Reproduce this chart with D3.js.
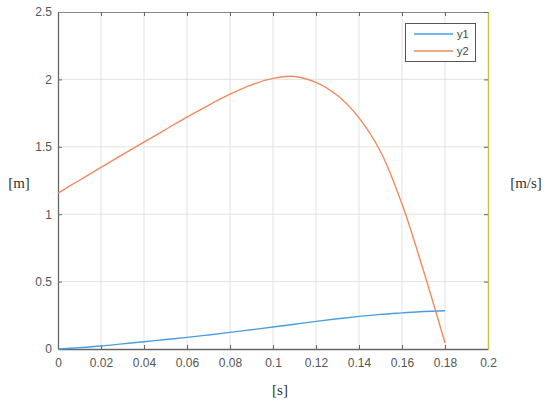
<!DOCTYPE html>
<html><head><meta charset="utf-8">
<script src="https://cdn.jsdelivr.net/npm/d3@7"></script>
<style>body{margin:0;background:#fff;}svg{display:block;}</style>
</head><body>
<svg id="chart" width="550" height="406"></svg>
<script>
const tValues = [0,0.01,0.02,0.03,0.04,0.05,0.06,0.07,0.08,0.09,0.1,0.11,0.12,0.13,0.14,0.15,0.16,0.17,0.18];
const y1Values = [0,0.01,0.022,0.038,0.054,0.07,0.086,0.104,0.123,0.143,0.163,0.184,0.205,0.224,0.242,0.257,0.268,0.278,0.284];
const y2Values = [1.157,1.252,1.347,1.442,1.535,1.628,1.72,1.808,1.89,1.96,2.008,2.022,1.978,1.88,1.715,1.465,1.075,0.58,0.045];
const xTicks = [0,0.02,0.04,0.06,0.08,0.1,0.12,0.14,0.16,0.18,0.2];
const yTicks = [0,0.5,1,1.5,2,2.5];
const seriesNames = ["y1","y2"];
const seriesColors = ["#4a9ee0","#f08a5d"];

(function(){
const svg = d3.select("#chart");
const L=58,R=488,T=12,B=349;
const x = d3.scaleLinear().domain([0,0.2]).range([L,R]);
const y = d3.scaleLinear().domain([0,2.5]).range([B,T]);

// grid
const g = svg.append("g");
g.selectAll(".gx").data(xTicks.slice(1,-1)).enter().append("line")
  .attr("x1",d=>x(d)).attr("x2",d=>x(d)).attr("y1",T).attr("y2",B)
  .attr("stroke","#e3e3e3").attr("stroke-width",1);
g.selectAll(".gy").data(yTicks.slice(1,-1)).enter().append("line")
  .attr("x1",L).attr("x2",R).attr("y1",d=>y(d)).attr("y2",d=>y(d))
  .attr("stroke","#e3e3e3").attr("stroke-width",1);

// axes
const axisColor="#666";
const axB = svg.append("g").attr("transform",`translate(0,${B})`)
  .call(d3.axisBottom(x).tickValues(xTicks).tickFormat(d=>String(d)).tickSizeInner(-4).tickSizeOuter(0).tickPadding(9));
const axL = svg.append("g").attr("transform",`translate(${L},0)`)
  .call(d3.axisLeft(y).tickValues(yTicks).tickFormat(d=>String(d)).tickSizeInner(-4).tickSizeOuter(0).tickPadding(6));
const axT = svg.append("g").attr("transform",`translate(0,${T})`)
  .call(d3.axisTop(x).tickValues(xTicks).tickFormat("").tickSizeInner(-4).tickSizeOuter(0));
const axR = svg.append("g").attr("transform",`translate(${R},0)`)
  .call(d3.axisRight(y).tickValues(yTicks).tickFormat("").tickSizeInner(-4).tickSizeOuter(0));
[axB,axL,axT,axR].forEach(a=>{
  a.selectAll("path").attr("stroke",axisColor).attr("stroke-width",1.3);
  a.selectAll("line").attr("stroke",axisColor).attr("stroke-width",1);
  a.selectAll("text").attr("fill","#555").style("font-family","'Liberation Sans',Arial,sans-serif").style("font-size","12px");
});
axT.selectAll("path").attr("stroke","#888").attr("stroke-width",1);
axR.selectAll("path").attr("stroke","#c9c23a").attr("stroke-width",1.5);

// lines
const series = [y1Values,y2Values];
const line = d3.line().x((d,i)=>x(tValues[i])).y(d=>y(d)).curve(d3.curveCatmullRom.alpha(0.5));
series.forEach((s,k)=>{
  svg.append("path").datum(s).attr("d",line).attr("fill","none")
    .attr("stroke",seriesColors[k]).attr("stroke-width",1.4);
});

// labels
const serif="'Liberation Serif','Times New Roman',serif";
svg.append("text").attr("x",19).attr("y",188).attr("text-anchor","middle").attr("fill","#333")
  .style("font-family",serif).style("font-size","15px").text("[m]");
svg.append("text").attr("x",526).attr("y",188).attr("text-anchor","middle").attr("fill","#333")
  .style("font-family",serif).style("font-size","15px").text("[m/s]");
svg.append("text").attr("x",280).attr("y",395).attr("text-anchor","middle").attr("fill","#333")
  .style("font-family",serif).style("font-size","15px").text("[s]");

// legend
const lg = svg.append("g");
lg.append("rect").attr("x",405.5).attr("y",23.5).attr("width",70).attr("height",38)
  .attr("fill","#fff").attr("stroke","#555").attr("stroke-width",1);
seriesNames.forEach((n,k)=>{
  const yy = 34 + k*17;
  lg.append("line").attr("x1",414).attr("x2",453).attr("y1",yy).attr("y2",yy)
    .attr("stroke",seriesColors[k]).attr("stroke-width",1.6);
  lg.append("text").attr("x",457).attr("y",yy+4).attr("fill","#444")
    .style("font-family","'Liberation Sans',Arial,sans-serif").style("font-size","11px").text(n);
});
})();
</script>
</body></html>
